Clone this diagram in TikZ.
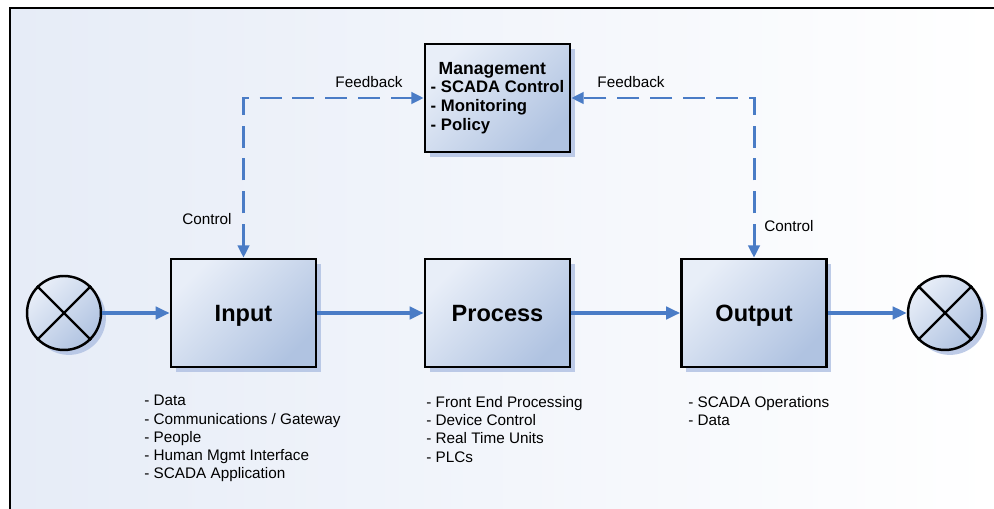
\documentclass[tikz,border=0pt]{standalone}
\usepackage{fontspec}
\setmainfont{Liberation Sans}
\usetikzlibrary{arrows.meta,shadows}

\definecolor{flowblue}{HTML}{4A7CC6}
\definecolor{boxlight}{HTML}{E8EEF8}
\definecolor{boxdark}{HTML}{B0C3E1}
\definecolor{shadowblue}{HTML}{AEBFE2}
\definecolor{bgblue}{HTML}{E6ECF7}

\tikzset{
  block/.style={draw=black, line width=1.5pt, minimum width=2.9cm, minimum height=2.16cm,
    top color=boxlight, bottom color=boxdark, shading angle=45,
    drop shadow={shadow xshift=2.8pt, shadow yshift=-2.8pt, fill=shadowblue, opacity=0.8}},
  title/.style={font=\fontsize{13.4}{15}\selectfont\bfseries, text depth=0pt},
  junction/.style={circle, draw=black, line width=1.4pt, minimum size=1.48cm, inner sep=0pt,
    top color=boxlight, bottom color=boxdark, shading angle=45,
    drop shadow={shadow xshift=2.8pt, shadow yshift=-2.8pt, fill=shadowblue, opacity=0.8}},
  flow/.style={flowblue, line width=2pt, -{Triangle[length=8pt,width=7pt]}},
  ctrl/.style={flowblue, line width=1.7pt, dash pattern=on 12.5pt off 6.2pt,
    {Triangle[length=7pt,width=6.5pt]}-{Triangle[length=7pt,width=6.5pt]}},
  lbl/.style={font=\fontsize{8.7}{10}\selectfont, inner sep=0pt},
  notes/.style={align=left, anchor=north west, inner sep=0pt,
    font=\fontsize{8.7}{10.4}\selectfont}
}

\begin{document}
\begin{tikzpicture}[x=0.02cm, y=-0.02cm]
	\useasboundingbox (0,0) rectangle (994,509);
	% backdrop and frame
	\fill[left color=bgblue, right color=white] (10,8) rectangle (994,509);
	\draw[line width=1.5pt] (10,509) -- (10,8) -- (994,8);

	% main chain
	\node[junction] (src) at (64,313) {};
	\node[block, title] (input) at (243.5,313) {Input};
	\node[block, title] (process) at (497.5,313) {Process};
	\node[block, title] (output) at (754,313) {Output};
	\node[junction] (sink) at (945,313) {};
	\draw[line width=1.4pt] (src.45) -- (src.225) (src.135) -- (src.315);
	\draw[line width=1.4pt] (sink.45) -- (sink.225) (sink.135) -- (sink.315);

	\node[block, align=left, inner xsep=2pt,
		font=\fontsize{9.5}{10.6}\selectfont\bfseries] (mgmt) at (497.5,98)
		{\hspace*{4.5pt}{\fontsize{10}{10.6}\selectfont Management}\\- SCADA Control\\- Monitoring\\- Policy};

	\draw[flow] (src) -- (input);
	\draw[flow] (input) -- (process);
	\draw[flow] (process) -- (output);
	\draw[flow] (output) -- (sink);

	% feedback / control loops
	\draw[ctrl] (input.north) |- (mgmt.west);
	\draw[ctrl] (output.north) |- (mgmt.east);
	\node[lbl] (fbleft) at (369,82) {Feedback};
	\node[lbl] (ctleft) at (207,219) {Control};
	\node[lbl] (fbright) at (631,82) {Feedback};
	\node[lbl] (ctright) at (789,226) {Control};

	% notes under the blocks
	\node[notes] (innotes) at (144,395)
		{- Data\\- Communications / Gateway\\- People\\- Human Mgmt Interface\\- SCADA Application};
	\node[notes] (procnotes) at (426,396)
		{- Front End Processing\\- Device Control\\- Real Time Units\\- PLCs};
	\node[notes] (outnotes) at (688,396)
		{- SCADA Operations\\- Data};
\end{tikzpicture}
\end{document}
